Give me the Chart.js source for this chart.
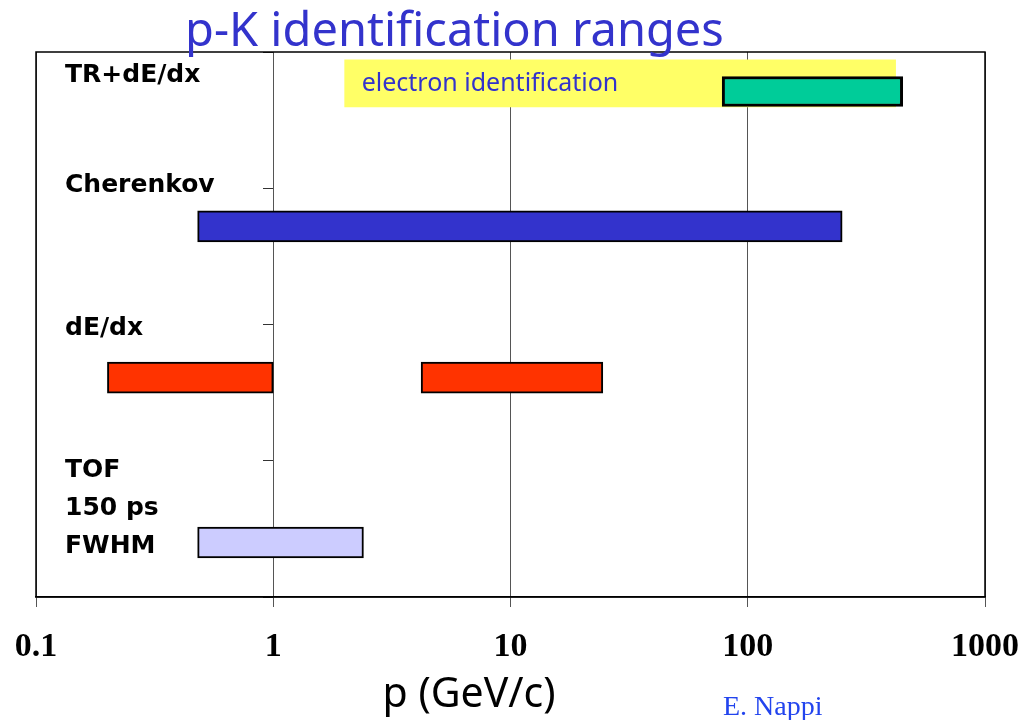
<!DOCTYPE html>
<html>
<head>
<meta charset="utf-8">
<script src="https://cdn.jsdelivr.net/npm/chart.js@4"></script>
<style>
  html, body { margin: 0; padding: 0; background: #fff; }
  #wrap { width: 1024px; height: 720px; }
</style>
</head>
<body>
<div id="wrap"><canvas id="myChart"></canvas></div>
<script>
const ctx = document.getElementById('myChart');

// tick labels on the momentum axis (GeV/c)
const xTicks = [0.1, 1, 10, 100, 1000];

// ranges per technique, [from, to] in GeV/c, and their row height
const electronBand = [2, 420];
const electronRow = 3.77;
const trRange = [78, 450];
const trRow = 3.71;
const cherenkovRange = [0.48, 250];
const cherenkovRow = 2.72;
const dedxRanges = [[0.2, 1], [4.2, 24.5]];
const dedxRow = 1.61;
const tofRange = [0.48, 2.4];
const tofRow = 0.40;

// row names on the left
const rowLabels = [['TR+dE/dx'], ['Cherenkov'], ['dE/dx'], ['TOF', '150 ps', 'FWHM']];
const rowLabelY = [3.83, 3.02, 1.97, 0.93];

const overlay = {
    id: 'overlay',
    beforeDatasetsDraw(chart) {
        const a = chart.chartArea;
        const c = chart.ctx;
        c.save();
        c.strokeStyle = '#000';
        c.lineWidth = 1.5;
        c.strokeRect(a.left, a.top, a.right - a.left, a.bottom - a.top);
        c.restore();
    },
    afterDraw(chart) {
        const c = chart.ctx;
        const a = chart.chartArea;
        const ys = chart.scales.y;
        const xs = chart.scales.x;
        c.save();
        // title
        c.fillStyle = '#3333CC';
        c.font = '47px "Noto Sans"';
        c.textAlign = 'left';
        c.textBaseline = 'alphabetic';
        c.fillText('p-K identification ranges', 185, 46);

        // electron band text
        c.font = '25px "Noto Sans"';
        c.textBaseline = 'middle';
        c.fillText('electron identification', xs.getPixelForValue(electronBand[0]) + 17, ys.getPixelForValue(electronRow) + 1);

        // row labels
        c.fillStyle = '#000';
        c.font = 'bold 25px "DejaVu Sans"';
        rowLabels.forEach((lines, i) => {
            const y0 = ys.getPixelForValue(rowLabelY[i]);
            lines.forEach((t, j) => c.fillText(t, a.left + 29, y0 + j * 38));
        });

        // axis title
        c.font = '41px "Noto Sans"';
        c.textAlign = 'center';
        c.textBaseline = 'alphabetic';
        c.fillText('p (GeV/c)', 469, 707);

        // credit
        c.fillStyle = '#2244EE';
        c.font = '28px "Liberation Serif"';
        c.textAlign = 'left';
        c.fillText('E. Nappi', 723, 715);
        c.restore();
    }
};

new Chart(ctx, {
    type: 'bar',
    data: {
        datasets: [{
            label: 'electron identification',
            data: [{ x: electronBand, y: electronRow }],
            backgroundColor: '#FFFF66',
            borderWidth: 0,
            barThickness: 47,
            grouped: false,
            order: 2
        }, {
            label: 'TR+dE/dx',
            data: [{ x: trRange, y: trRow }],
            backgroundColor: '#00CC99',
            borderColor: '#000',
            borderWidth: 3,
            borderSkipped: false,
            barThickness: 30,
            grouped: false,
            order: 1
        }, {
            label: 'Cherenkov',
            data: [{ x: cherenkovRange, y: cherenkovRow }],
            backgroundColor: '#3333CC',
            borderColor: '#000',
            borderWidth: 2,
            borderSkipped: false,
            barThickness: 31,
            grouped: false,
            order: 1
        }, {
            label: 'dE/dx',
            data: dedxRanges.map(r => ({ x: r, y: dedxRow })),
            backgroundColor: '#FF3300',
            borderColor: '#000',
            borderWidth: 2,
            borderSkipped: false,
            barThickness: 31,
            grouped: false,
            order: 1
        }, {
            label: 'TOF',
            data: [{ x: tofRange, y: tofRow }],
            backgroundColor: '#CCCCFF',
            borderColor: '#000',
            borderWidth: 2,
            borderSkipped: false,
            barThickness: 31,
            grouped: false,
            order: 1
        }]
    },
    options: {
        indexAxis: 'y',
        responsive: true,
        maintainAspectRatio: false,
        animation: false,
        layout: { padding: { top: 52, left: 36, right: 39, bottom: 0 } },
        plugins: {
            legend: { display: false },
            tooltip: { enabled: false },
            title: { display: false }
        },
        scales: {
            x: {
                type: 'logarithmic',
                min: 0.1,
                max: 1000,
                afterBuildTicks: (s) => { s.ticks = xTicks.map(v => ({ value: v })); },
                afterFit: (s) => { s.height = 123; s.paddingLeft = 0; s.paddingRight = 0; },
                border: { color: '#000', width: 1.5 },
                grid: { color: '#555', lineWidth: 1, tickLength: 10 },
                ticks: {
                    color: '#000',
                    padding: 20,
                    maxRotation: 0,
                    autoSkip: false,
                    font: { family: '"Liberation Serif"', size: 34, weight: 'bold' },
                    callback: (v) => String(v)
                }
            },
            y: {
                type: 'linear',
                min: 0,
                max: 4,
                offset: false,
                position: { x: 1 },
                border: { display: false },
                grid: { offset: false, drawOnChartArea: false, drawTicks: true, tickLength: 10, color: '#333' },
                ticks: { stepSize: 1, display: false }
            }
        }
    },
    plugins: [overlay]
});
</script>
</body>
</html>
